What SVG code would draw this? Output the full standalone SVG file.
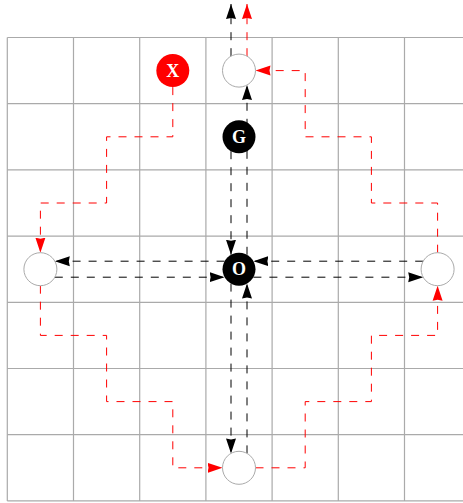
<svg xmlns="http://www.w3.org/2000/svg" width="463" height="503" viewBox="0 0 463 503">
  <style>
    .grid line { stroke: #aaaaaa; stroke-width: 1.2; }
    .edge { fill: none; stroke-width: 1; stroke-dasharray: 8 8; }
    .blk { stroke: #000000; }
    .red { stroke: #ff0000; }
    .node { stroke: #aaaaaa; stroke-width: 1; fill: #ffffff; }
    .solid-black { fill: #000000; stroke: none; }
    .solid-red { fill: #ff0000; stroke: none; }
    .label { font-family: "Liberation Serif", "Times New Roman", serif; font-weight: bold; font-size: 18px; fill: #ffffff; text-anchor: middle; }
  </style>
  <defs>
    <marker id="arrow-black" markerUnits="userSpaceOnUse" markerWidth="16" markerHeight="12" refX="15" refY="5.5" orient="auto">
      <path d="M0,0.5 L15,5.5 L0,10.5 L1,5.5 z" fill="#000000"/>
    </marker>
    <marker id="arrow-red" markerUnits="userSpaceOnUse" markerWidth="16" markerHeight="12" refX="15" refY="5.5" orient="auto">
      <path d="M0,0.5 L15,5.5 L0,10.5 L1,5.5 z" fill="#ff0000"/>
    </marker>
  </defs>

  <rect width="463" height="503" fill="#ffffff"/>

  <!-- board grid -->
  <g class="grid">
    <line x1="7.3" y1="37.5" x2="7.3" y2="500.9"/>
    <line x1="73.5" y1="37.5" x2="73.5" y2="500.9"/>
    <line x1="139.7" y1="37.5" x2="139.7" y2="500.9"/>
    <line x1="205.9" y1="37.5" x2="205.9" y2="500.9"/>
    <line x1="272.1" y1="37.5" x2="272.1" y2="500.9"/>
    <line x1="338.3" y1="37.5" x2="338.3" y2="500.9"/>
    <line x1="404.5" y1="37.5" x2="404.5" y2="500.9"/>
    <line x1="7.3" y1="37.5" x2="470" y2="37.5"/>
    <line x1="7.3" y1="103.7" x2="470" y2="103.7"/>
    <line x1="7.3" y1="169.9" x2="470" y2="169.9"/>
    <line x1="7.3" y1="236.1" x2="470" y2="236.1"/>
    <line x1="7.3" y1="302.3" x2="470" y2="302.3"/>
    <line x1="7.3" y1="368.5" x2="470" y2="368.5"/>
    <line x1="7.3" y1="434.7" x2="470" y2="434.7"/>
    <line x1="7.3" y1="500.9" x2="470" y2="500.9"/>
  </g>

  <!-- connectors -->
  <g id="connectors">
    <!-- vertical pairs through the centre -->
    <path class="edge blk" d="M231,151.2 V254.8" marker-end="url(#arrow-black)"/>
    <path class="edge blk" d="M247,254.8 V85" marker-end="url(#arrow-black)"/>
    <path class="edge blk" d="M231,283.6 V453.4" marker-end="url(#arrow-black)"/>
    <path class="edge blk" d="M247,453.4 V283.6" marker-end="url(#arrow-black)"/>
    <!-- horizontal pairs through the centre -->
    <path class="edge blk" d="M224.6,261.2 H54.8" marker-end="url(#arrow-black)"/>
    <path class="edge blk" d="M423.2,261.2 H253.4" marker-end="url(#arrow-black)"/>
    <path class="edge blk" d="M54.8,277.2 H224.6" marker-end="url(#arrow-black)"/>
    <path class="edge blk" d="M253.4,277.2 H423.2" marker-end="url(#arrow-black)"/>
    <!-- exits off the top edge -->
    <path class="edge blk" d="M231,56.2 V4" marker-end="url(#arrow-black)"/>
    <path class="edge red" d="M247,56.2 V4" marker-end="url(#arrow-red)"/>
    <!-- red staircase loop -->
    <path class="edge red" d="M172.8,87.1 V136.8 H106.6 V203 H40.4 V252.7" marker-end="url(#arrow-red)"/>
    <path class="edge red" d="M40.4,285.7 V335.4 H106.6 V401.6 H172.8 V467.8 H222.5" marker-end="url(#arrow-red)"/>
    <path class="edge red" d="M255.5,467.8 H305.2 V401.6 H371.4 V335.4 H437.6 V285.7" marker-end="url(#arrow-red)"/>
    <path class="edge red" d="M437.6,252.7 V203 H371.4 V136.8 H305.2 V70.6 H255.5" marker-end="url(#arrow-red)"/>
  </g>

  <!-- nodes -->
  <g id="node-top"><circle class="node" cx="239" cy="70.6" r="16.5"/></g>
  <g id="node-left"><circle class="node" cx="40.4" cy="269.2" r="16.5"/></g>
  <g id="node-right"><circle class="node" cx="437.6" cy="269.2" r="16.5"/></g>
  <g id="node-bottom"><circle class="node" cx="239" cy="467.8" r="16.5"/></g>
  <g id="node-x">
    <circle class="solid-red" cx="172.8" cy="70.6" r="16.5"/>
    <text class="label" x="172.8" y="76.8">X</text>
  </g>
  <g id="node-g">
    <circle class="solid-black" cx="239" cy="136.8" r="16.5"/>
    <text class="label" x="239" y="143">G</text>
  </g>
  <g id="node-o">
    <circle class="solid-black" cx="239" cy="269.2" r="16.5"/>
    <text class="label" x="239" y="275.4">O</text>
  </g>
</svg>
